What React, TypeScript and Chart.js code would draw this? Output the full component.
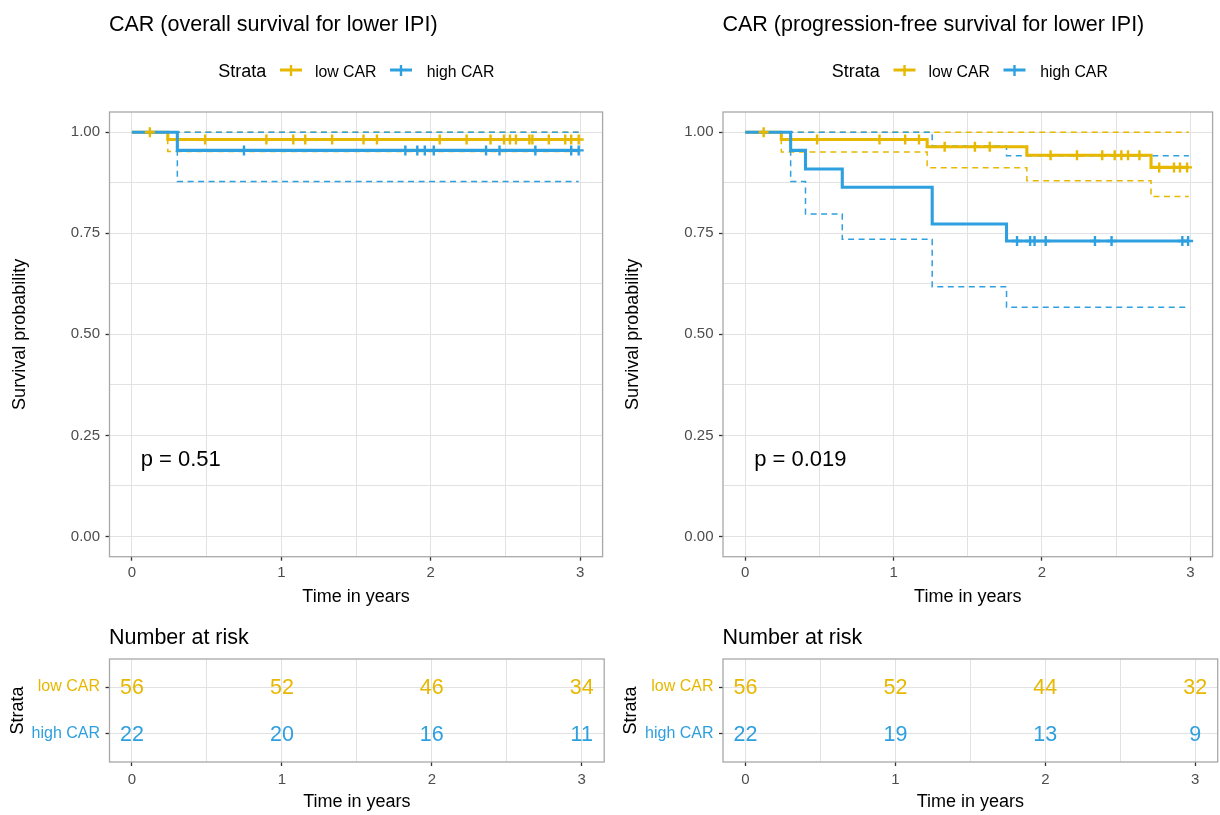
import React, { useEffect, useRef } from "react";
import { Chart, registerables } from "chart.js";

Chart.register(...registerables);

const FONT = "'Liberation Sans', Arial, Helvetica, sans-serif";
const YELLOW = "#E7B800";
const BLUE = "#2E9FDF";
const GRID = "#E2E2E2";
const BORDER = "#A8A8A8";
const TICK_TEXT = "#4D4D4D";

const STRATA = ["low CAR", "high CAR"];
const TIME_MAJOR = [0, 1, 2, 3];
const TIME_MINOR = [0.5, 1.5, 2.5];
const SURV_MAJOR = [0, 0.25, 0.5, 0.75, 1];
const SURV_MINOR = [0.125, 0.375, 0.625, 0.875];

// ---- Overall survival ----
const OS_TITLE = "CAR (overall survival for lower IPI)";
const OS_PVALUE = "p = 0.51";
const OS_LOW_TIME = [0, 0.24, 2.99];
const OS_LOW_SURV = [1, 0.982, 0.982];
const OS_LOW_LOWER = [1, 0.952, 0.952];
const OS_LOW_UPPER = [1, 1, 1];
const OS_LOW_CENSOR = [0.12, 0.49, 0.9, 1.08, 1.16, 1.34, 1.55, 1.64, 2.06, 2.24, 2.4, 2.49, 2.53, 2.57, 2.66, 2.68, 2.79, 2.9, 2.94, 2.99];
const OS_HIGH_TIME = [0, 0.304, 2.99];
const OS_HIGH_SURV = [1, 0.955, 0.955];
const OS_HIGH_LOWER = [1, 0.878, 0.878];
const OS_HIGH_UPPER = [1, 1, 1];
const OS_HIGH_CENSOR = [0.75, 1.83, 1.91, 1.96, 2.02, 2.37, 2.46, 2.7, 2.94, 2.99];
const OS_RISK_LOW = [56, 52, 46, 34];
const OS_RISK_HIGH = [22, 20, 16, 11];

// ---- Progression-free survival ----
const PFS_TITLE = "CAR (progression-free survival for lower IPI)";
const PFS_PVALUE = "p = 0.019";
const PFS_LOW_TIME = [0, 0.243, 1.226, 1.898, 2.735, 2.99];
const PFS_LOW_SURV = [1, 0.982, 0.964, 0.943, 0.913, 0.913];
const PFS_LOW_LOWER = [1, 0.951, 0.912, 0.88, 0.841, 0.841];
const PFS_LOW_UPPER = [1, 1, 1, 1, 1, 1];
const PFS_LOW_CENSOR = [0.124, 0.484, 0.905, 1.078, 1.171, 1.344, 1.548, 1.648, 2.058, 2.236, 2.406, 2.49, 2.535, 2.58, 2.657, 2.79, 2.89, 2.93, 2.978];
const PFS_HIGH_TIME = [0, 0.306, 0.406, 0.654, 1.26, 1.761, 2.99];
const PFS_HIGH_SURV = [1, 0.955, 0.909, 0.864, 0.773, 0.731, 0.731];
const PFS_HIGH_LOWER = [1, 0.878, 0.798, 0.735, 0.618, 0.567, 0.567];
const PFS_HIGH_UPPER = [1, 1, 1, 1, 0.966, 0.942, 0.942];
const PFS_HIGH_CENSOR = [1.832, 1.92, 1.95, 2.025, 2.357, 2.469, 2.946, 2.985];
const PFS_RISK_LOW = [56, 52, 44, 32];
const PFS_RISK_HIGH = [22, 19, 13, 9];

type Curve = {
  time: number[];
  surv: number[];
  lower: number[];
  upper: number[];
  censor: number[];
  color: string;
};

const OS_CURVES: Curve[] = [
  { time: OS_LOW_TIME, surv: OS_LOW_SURV, lower: OS_LOW_LOWER, upper: OS_LOW_UPPER, censor: OS_LOW_CENSOR, color: YELLOW },
  { time: OS_HIGH_TIME, surv: OS_HIGH_SURV, lower: OS_HIGH_LOWER, upper: OS_HIGH_UPPER, censor: OS_HIGH_CENSOR, color: BLUE },
];
const PFS_CURVES: Curve[] = [
  { time: PFS_LOW_TIME, surv: PFS_LOW_SURV, lower: PFS_LOW_LOWER, upper: PFS_LOW_UPPER, censor: PFS_LOW_CENSOR, color: YELLOW },
  { time: PFS_HIGH_TIME, surv: PFS_HIGH_SURV, lower: PFS_HIGH_LOWER, upper: PFS_HIGH_UPPER, censor: PFS_HIGH_CENSOR, color: BLUE },
];

const toPoints = (xs: number[], ys: number[]) => xs.map((x, i) => ({ x, y: ys[i] }));
const survAt = (c: Curve, t: number) => {
  let v = c.surv[0];
  c.time.forEach((x, i) => {
    if (x <= t) v = c.surv[i];
  });
  return v;
};

const isIn = (arr: number[], v: number) => arr.some((a) => Math.abs(a - v) < 1e-9);

function timeAxis(height: number, labelPad: number, titleBottom: number) {
  return {
    type: "linear",
    min: -0.15,
    max: 3.15,
    afterBuildTicks: (s: any) => {
      s.ticks = [...TIME_MAJOR, ...TIME_MINOR].sort((a, b) => a - b).map((v) => ({ value: v }));
    },
    afterFit: (s: any) => {
      s.height = height;
    },
    grid: {
      color: GRID,
      lineWidth: 1,
      tickLength: 4,
      tickWidth: 1.3,
      tickColor: (ctx: any) => (ctx.tick && isIn(TIME_MAJOR, ctx.tick.value) ? "#333333" : "rgba(0,0,0,0)"),
    },
    border: { display: false },
    ticks: {
      autoSkip: false,
      maxRotation: 0,
      padding: labelPad,
      color: TICK_TEXT,
      font: { family: FONT, size: 15 },
      callback: (v: number) => (isIn(TIME_MAJOR, v) ? String(v) : ""),
    },
    title: {
      display: true,
      text: "Time in years",
      color: "#000000",
      font: { family: FONT, size: 18 },
      padding: { top: 0, bottom: titleBottom },
    },
  };
}

function drawLegendSymbol(ctx: CanvasRenderingContext2D, x0: number, y: number, color: string) {
  ctx.save();
  ctx.strokeStyle = color;
  ctx.lineWidth = 3;
  ctx.beginPath();
  ctx.moveTo(x0, y);
  ctx.lineTo(x0 + 22, y);
  ctx.stroke();
  ctx.lineWidth = 2.4;
  ctx.beginPath();
  ctx.moveTo(x0 + 11, y - 5);
  ctx.lineTo(x0 + 11, y + 6);
  ctx.stroke();
  ctx.restore();
}

function survivalChart(canvas: HTMLCanvasElement, title: string, pValue: string, curves: Curve[], shift: number) {
  const L = 109.5 + shift;
  const R = 604.2 + shift;
  const datasets: any[] = [];
  curves.forEach((c, k) => {
    datasets.push({
      label: STRATA[k] + " censor",
      data: c.censor.map((t) => ({ x: t, y: survAt(c, t) })),
      showLine: false,
      pointStyle: "cross",
      pointRadius: 5,
      pointBorderWidth: 2.4,
      borderColor: c.color,
      backgroundColor: c.color,
      order: 1 - k,
    });
    datasets.push({
      label: STRATA[k],
      data: toPoints(c.time, c.surv),
      stepped: true,
      borderColor: c.color,
      borderWidth: 3.1,
      pointRadius: 0,
      fill: false,
      order: 3 - k,
    });
    datasets.push({
      label: STRATA[k] + " lower",
      data: toPoints(c.time, c.lower),
      stepped: true,
      borderColor: c.color,
      borderWidth: 1.5,
      borderDash: [6, 4.5],
      pointRadius: 0,
      fill: false,
      order: 5 - k,
    });
    datasets.push({
      label: STRATA[k] + " upper",
      data: toPoints(c.time, c.upper),
      stepped: true,
      borderColor: c.color,
      borderWidth: 1.5,
      borderDash: [6, 4.5],
      pointRadius: 0,
      fill: false,
      order: 5 - k,
    });
  });

  const decor = {
    id: "decor",
    beforeDraw(chart: any) {
      const ctx = chart.ctx;
      ctx.save();
      ctx.fillStyle = "#ffffff";
      ctx.fillRect(0, 0, chart.width, chart.height);
      ctx.restore();
    },
    afterDatasetsDraw(chart: any) {
      const { ctx, chartArea: a } = chart;
      ctx.save();
      ctx.strokeStyle = BORDER;
      ctx.lineWidth = 1.3;
      ctx.strokeRect(a.left, a.top, a.right - a.left, a.bottom - a.top);
      ctx.restore();
    },
    afterDraw(chart: any) {
      const ctx = chart.ctx;
      ctx.save();
      ctx.fillStyle = "#000000";
      ctx.textBaseline = "alphabetic";
      ctx.textAlign = "left";
      ctx.font = `21.5px ${FONT}`;
      ctx.fillText(title, 109 + shift, 31);
      ctx.font = `18px ${FONT}`;
      ctx.fillText("Strata", 218.3 + shift, 77);
      drawLegendSymbol(ctx, 280 + shift, 70, curves[0].color);
      drawLegendSymbol(ctx, 390 + shift, 70, curves[1].color);
      ctx.fillStyle = "#000000";
      ctx.font = `15.8px ${FONT}`;
      ctx.fillText(STRATA[0], 315 + shift, 77);
      ctx.fillText(STRATA[1], 426.7 + shift, 77);
      ctx.font = `22px ${FONT}`;
      ctx.fillText(pValue, 140.7 + shift, 466);
      ctx.restore();
    },
  };

  return new Chart(canvas, {
    type: "line",
    data: { datasets },
    options: {
      responsive: false,
      animation: false,
      devicePixelRatio: 1,
      events: [],
      layout: { padding: { top: 112, right: 610 - R, bottom: 0, left: 0 } },
      plugins: { legend: { display: false }, title: { display: false }, tooltip: { enabled: false } },
      elements: { line: { tension: 0, borderJoinStyle: "miter" } },
      scales: {
        x: timeAxis(63.3, 3.3, 12.2),
        y: {
          type: "linear",
          min: -0.05,
          max: 1.05,
          afterBuildTicks: (s: any) => {
            s.ticks = [...SURV_MAJOR, ...SURV_MINOR].sort((a, b) => a - b).map((v) => ({ value: v }));
          },
          afterFit: (s: any) => {
            s.width = L;
          },
          grid: {
            color: GRID,
            lineWidth: 1,
            tickLength: 4,
            tickWidth: 1.3,
            tickColor: (ctx: any) => (ctx.tick && isIn(SURV_MAJOR, ctx.tick.value) ? "#333333" : "rgba(0,0,0,0)"),
          },
          border: { display: false },
          ticks: {
            autoSkip: false,
            padding: 5.5,
            color: TICK_TEXT,
            font: { family: FONT, size: 15 },
            callback: (v: number) => (isIn(SURV_MAJOR, v) ? v.toFixed(2) : ""),
          },
          title: {
            display: true,
            text: "Survival probability",
            color: "#000000",
            font: { family: FONT, size: 18 },
            padding: { top: 20 + shift - 10.8, bottom: 0 },
          },
        },
      },
    } as any,
    plugins: [decor],
  } as any);
}

function riskChart(canvas: HTMLCanvasElement, riskLow: number[], riskHigh: number[], shift: number) {
  const L = 109.5 + shift;
  const R = 604.2 + shift;
  const rows = [
    { label: STRATA[0], values: riskLow, color: YELLOW, level: 2 },
    { label: STRATA[1], values: riskHigh, color: BLUE, level: 1 },
  ];
  const datasets = rows.map((r) => ({
    label: r.label,
    data: TIME_MAJOR.map((t) => ({ x: t, y: r.level })),
    showLine: false,
    pointRadius: 0,
    borderColor: r.color,
    risk: r.values,
  }));

  const decor = {
    id: "riskDecor",
    beforeDraw(chart: any) {
      const ctx = chart.ctx;
      ctx.save();
      ctx.fillStyle = "#ffffff";
      ctx.fillRect(0, 0, chart.width, chart.height);
      ctx.restore();
    },
    afterDatasetsDraw(chart: any) {
      const { ctx, chartArea: a } = chart;
      ctx.save();
      ctx.font = `21.5px ${FONT}`;
      ctx.textAlign = "center";
      ctx.textBaseline = "middle";
      chart.data.datasets.forEach((ds: any, i: number) => {
        const meta = chart.getDatasetMeta(i);
        ctx.fillStyle = ds.borderColor;
        meta.data.forEach((pt: any, j: number) => {
          ctx.fillText(String(ds.risk[j]), pt.x, pt.y + 1);
        });
      });
      ctx.strokeStyle = BORDER;
      ctx.lineWidth = 1.3;
      ctx.strokeRect(a.left, a.top, a.right - a.left, a.bottom - a.top);
      ctx.restore();
    },
    afterDraw(chart: any) {
      const ctx = chart.ctx;
      ctx.save();
      ctx.fillStyle = "#000000";
      ctx.textAlign = "left";
      ctx.textBaseline = "alphabetic";
      ctx.font = `21.5px ${FONT}`;
      ctx.fillText("Number at risk", 109 + shift, 24);
      ctx.restore();
    },
  };

  return new Chart(canvas, {
    type: "line",
    data: { datasets },
    options: {
      responsive: false,
      animation: false,
      devicePixelRatio: 1,
      events: [],
      layout: { padding: { top: 39, right: 610 - R, bottom: 0, left: 0 } },
      plugins: { legend: { display: false }, title: { display: false }, tooltip: { enabled: false } },
      scales: {
        x: timeAxis(53, 5, 2.5),
        y: {
          type: "linear",
          min: 0.4,
          max: 2.6,
          afterBuildTicks: (s: any) => {
            s.ticks = rows.map((r) => ({ value: r.level })).sort((a, b) => a.value - b.value);
          },
          afterFit: (s: any) => {
            s.width = L;
          },
          grid: { color: GRID, lineWidth: 1, tickLength: 4, tickWidth: 1.3, tickColor: "#333333" },
          border: { display: false },
          ticks: {
            autoSkip: false,
            padding: 5.5,
            font: { family: FONT, size: 16 },
            color: (ctx: any) => (ctx.tick && ctx.tick.value === 2 ? YELLOW : BLUE),
            callback: (v: number) => (v === 2 ? STRATA[0] : STRATA[1]),
          },
          title: {
            display: true,
            text: "Strata",
            color: "#000000",
            font: { family: FONT, size: 18 },
            padding: { top: 17.6 + shift - 10.8, bottom: 0 },
          },
        },
      },
    } as any,
    plugins: [decor],
  } as any);
}

export default function App() {
  const r0 = useRef<HTMLCanvasElement>(null);
  const r1 = useRef<HTMLCanvasElement>(null);
  const r2 = useRef<HTMLCanvasElement>(null);
  const r3 = useRef<HTMLCanvasElement>(null);

  useEffect(() => {
    const charts = [
      survivalChart(r0.current!, OS_TITLE, OS_PVALUE, OS_CURVES, 0),
      survivalChart(r1.current!, PFS_TITLE, PFS_PVALUE, PFS_CURVES, 3.5),
      riskChart(r2.current!, OS_RISK_LOW, OS_RISK_HIGH, 0),
      riskChart(r3.current!, PFS_RISK_LOW, PFS_RISK_HIGH, 3.5),
    ];
    return () => charts.forEach((c) => c.destroy());
  }, []);

  const cs = (left: number, top: number, w: number, h: number): React.CSSProperties => ({
    position: "absolute",
    left,
    top,
    width: w,
    height: h,
  });

  return (
    <div style={{ position: "absolute", left: 0, top: 0, width: 1220, height: 815, background: "#ffffff" }}>
      <canvas ref={r0} width={610} height={620} style={cs(0, 0, 610, 620)} />
      <canvas ref={r1} width={610} height={620} style={cs(610, 0, 610, 620)} />
      <canvas ref={r2} width={610} height={195} style={cs(0, 620, 610, 195)} />
      <canvas ref={r3} width={610} height={195} style={cs(610, 620, 610, 195)} />
    </div>
  );
}
